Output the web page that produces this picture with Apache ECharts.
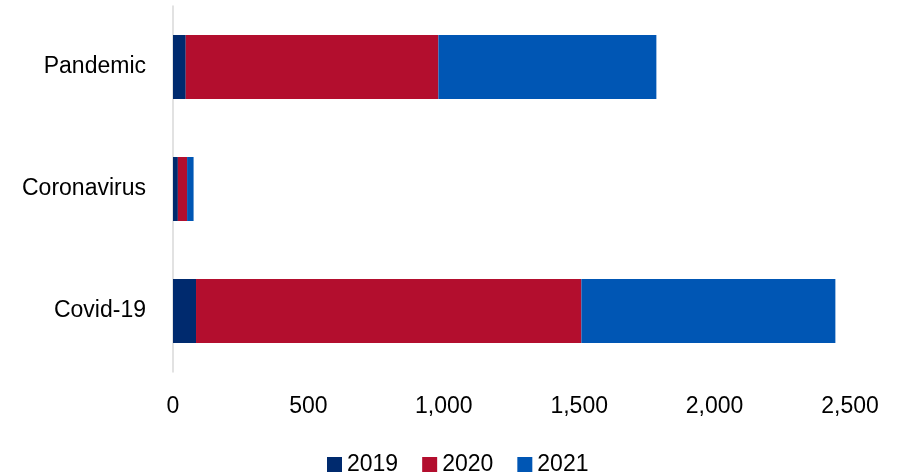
<!DOCTYPE html>
<html>
<head>
<meta charset="utf-8">
<script src="https://cdn.jsdelivr.net/npm/echarts@6/dist/echarts.min.js"></script>
<style>
  html, body { margin: 0; padding: 0; background: #fff; }
  #chart { width: 900px; height: 476px; }
</style>
</head>
<body>
<div id="chart"></div>
<script>
// Search terms, bottom to top
const categories = ['Covid-19', 'Coronavirus', 'Pandemic'];
const values2019 = [85, 18, 47];
const values2020 = [1423, 34, 933];
const values2021 = [938, 24, 805];
const xTicks = [0, 500, 1000, 1500, 2000, 2500];

const FONT = '"Liberation Sans", Arial, sans-serif';
const colors = { '2019': '#002A6E', '2020': '#B30E2E', '2021': '#0056B4' };

const chart = echarts.init(document.getElementById('chart'), null, { renderer: 'canvas' });

function barSeries(name, data) {
  return {
    name: name,
    type: 'bar',
    stack: 'total',
    data: data,
    barWidth: 64,
    itemStyle: { color: colors[name] },
    emphasis: { disabled: true }
  };
}

chart.setOption({
  animation: false,
  backgroundColor: '#ffffff',
  textStyle: { fontFamily: FONT },
  grid: { left: 173, right: 50, top: 6, bottom: 104, containLabel: false },
  xAxis: {
    type: 'value',
    min: xTicks[0],
    max: xTicks[xTicks.length - 1],
    interval: 500,
    axisLine: { show: false },
    axisTick: { show: false },
    splitLine: { show: false },
    axisLabel: {
      color: '#000',
      fontFamily: FONT,
      fontSize: 23,
      margin: 23,
      formatter: v => v.toLocaleString('en-US')
    }
  },
  yAxis: {
    type: 'category',
    data: categories,
    axisLine: { show: true, lineStyle: { color: '#D9D9D9', width: 1.5 } },
    axisTick: { show: false },
    axisLabel: {
      color: '#000',
      fontFamily: FONT,
      fontSize: 23,
      margin: 27
    }
  },
  legend: {
    data: ['2019', '2020', '2021'],
    left: 322,
    top: 448,
    itemWidth: 15,
    itemHeight: 15,
    itemGap: 24,
    icon: 'rect',
    textStyle: { color: '#000', fontFamily: FONT, fontSize: 23 }
  },
  series: [
    barSeries('2019', values2019),
    barSeries('2020', values2020),
    barSeries('2021', values2021)
  ]
});
</script>
</body>
</html>
